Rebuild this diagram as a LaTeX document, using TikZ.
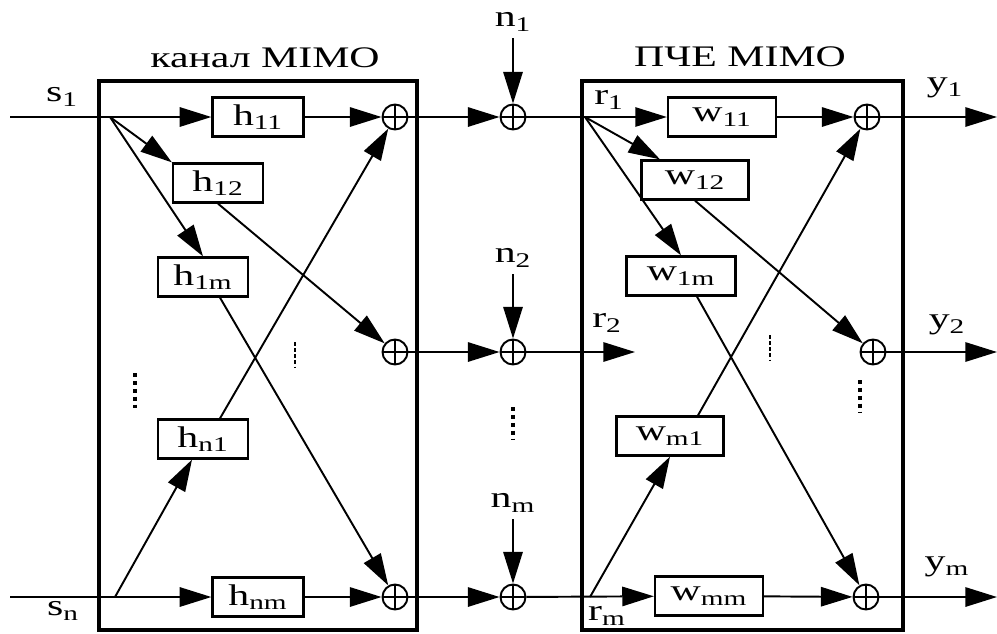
\documentclass[tikz,border=0pt]{standalone}
\usepackage{fontspec}
\setmainfont{Liberation Serif}[FakeStretch=1.4]
\usetikzlibrary{arrows.meta}
\tikzset{
    blk/.style={draw, line width=1.3pt, minimum height=0.78cm, inner sep=0pt},
    summ/.style={draw, circle, minimum size=0.5cm, inner sep=0pt,
      path picture={\draw (path picture bounding box.north) -- (path picture bounding box.south)
                          (path picture bounding box.west) -- (path picture bounding box.east);}},
    sig/.style={-{Triangle[length=18pt,width=11pt]}},
    mimobox/.style={line width=2.4pt},
    dotsbig/.style={line width=2.6pt, dash pattern=on 2.5pt off 2pt},
    dotssmall/.style={line width=1.2pt, dash pattern=on 2pt off 1.5pt},
  }

\begin{document}
\begin{tikzpicture}[x=0.02cm, y=-0.02cm, line width=1.1pt, font=\fontsize{17}{19}\selectfont]
      \useasboundingbox (0,0) rectangle (997,633);

      % mimo channel
      \draw[mimobox] (99,81) rectangle (417,630);
      \node (tch) at (265,58) {канал MIMO};

      % mimo equalizer
      \draw[mimobox] (582,81) rectangle (903,630);
      \node (teq) at (740,57) {ПЧЕ MIMO};

      % channel gains
      \node[blk, minimum width=1.82cm] (h11) at (258,117) {h\textsubscript{11}};
      \node[blk, minimum width=1.80cm] (h12) at (218,183) {h\textsubscript{12}};
      \node[blk, minimum width=1.80cm] (h1m) at (203,277) {h\textsubscript{1m}};
      \node[blk, minimum width=1.80cm] (hn1) at (203,439) {h\textsubscript{n1}};
      \node[blk, minimum width=1.82cm] (hnm) at (258,597) {h\textsubscript{nm}};

      % channel sums
      \node[summ] (sc1) at (395,117) {};
      \node[summ] (sc2) at (395,352) {};
      \node[summ] (sc3) at (395,597) {};

      % inputs
      \coordinate (s1in) at (10,117);
      \coordinate (snin) at (10,597);
      \coordinate (sp1) at (110,117);
      \coordinate (sp2) at (115,597);
      \node (s1) at (62,97) {s\textsubscript{1}};
      \node (sn) at (63,611) {s\textsubscript{n}};

      % channel paths
      \draw[sig] (s1in) -- (h11);
      \draw[sig] (sp1) -- (h12.north west);
      \draw[sig] (sp1) -- (h1m.north);
      \draw[sig] (h11) -- (sc1);
      \draw[sig] (h12.south) -- (sc2);
      \draw[sig] ([xshift=0.34cm]h1m.south) -- (sc3);
      \draw[sig] ([xshift=0.34cm]hn1.north) -- (sc1);
      \draw[sig] (sp2) -- ([xshift=-0.22cm]hn1.south);
      \draw[sig] (snin) -- (hnm);
      \draw[sig] (hnm) -- (sc3);
      \draw[dotsbig] (135,373) -- (135,408);
      \draw[dotssmall] (295,342) -- (295,368);

      % noise
      \node (n1) at (513,22) {n\textsubscript{1}};
      \node (n2) at (513,258) {n\textsubscript{2}};
      \node (nm) at (513,503) {n\textsubscript{m}};
      \node[summ] (sn1) at (513,117) {};
      \node[summ] (sn2) at (513,352) {};
      \node[summ] (sn3) at (513,597) {};
      \draw[sig] (n1) -- (sn1);
      \draw[sig] (n2) -- (sn2);
      \draw[sig] (nm) -- (sn3);
      \draw[sig] (sc1) -- (sn1);
      \draw[sig] (sc2) -- (sn2);
      \draw[sig] (sc3) -- (sn3);
      \draw[dotsbig] (513,407) -- (513,440);

      % equalizer weights
      \node[blk, minimum width=2.16cm] (w11) at (722,117) {w\textsubscript{11}};
      \node[blk, minimum width=2.14cm] (w12) at (695,180) {w\textsubscript{12}};
      \node[blk, minimum width=2.18cm] (w1m) at (681,276) {w\textsubscript{1m}};
      \node[blk, minimum width=2.14cm] (wm1) at (670,436) {w\textsubscript{m1}};
      \node[blk, minimum width=2.16cm] (wmm) at (709,596) {w\textsubscript{mm}};

      % equalizer sums
      \node[summ] (se1) at (867,117) {};
      \node[summ] (se2) at (873,352) {};
      \node[summ] (se3) at (866,597) {};

      % received signals
      \coordinate (sp3) at (585,117);
      \coordinate (sp4) at (590,597);
      \coordinate (r2end) at (635,352);
      \node (r1) at (609,100) {r\textsubscript{1}};
      \node (r2) at (607,323) {r\textsubscript{2}};
      \node (rm) at (607,616) {r\textsubscript{m}};

      % equalizer paths
      \draw[sig] (sn1) -- (w11);
      \draw[sig] (sp3) -- ([xshift=-0.7cm]w12.north);
      \draw[sig] (sp3) -- (w1m.north);
      \draw[sig] (w11) -- (se1);
      \draw[sig] (w12.south) -- (se2);
      \draw[sig] ([xshift=0.32cm]w1m.south) -- (se3);
      \draw[sig] ([xshift=0.56cm]wm1.north) -- (se1);
      \draw[sig] (sp4) -- (wm1.south);
      \draw[sig] (sn3) -- (wmm);
      \draw[sig] (wmm) -- (se3);
      \draw[sig] (sn2) -- (r2end);
      \draw[dotssmall] (770,335) -- (770,360);
      \draw[dotsbig] (860,380) -- (860,412);

      % outputs
      \coordinate (y1out) at (997,117);
      \coordinate (y2out) at (997,352);
      \coordinate (ymout) at (997,597);
      \node (y1) at (945,88) {y\textsubscript{1}};
      \node (y2) at (947,325) {y\textsubscript{2}};
      \node (ym) at (947,567) {y\textsubscript{m}};
      \draw[sig] (se1) -- (y1out);
      \draw[sig] (se2) -- (y2out);
      \draw[sig] (se3) -- (ymout);
    \end{tikzpicture}
\end{document}
